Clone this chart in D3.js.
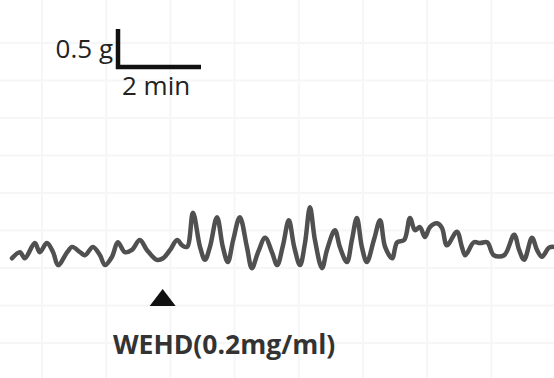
<!DOCTYPE html>
<html>
<head>
<meta charset="utf-8">
<script src="https://cdn.jsdelivr.net/npm/d3@7"></script>
<style>
  body { margin: 0; background: #fff; }
  svg { display: block; }
</style>
</head>
<body>
<div id="chart"></div>
<script>
// time in min, tension in g
const time = [0.00, 0.19, 0.31, 0.55, 0.67, 0.84, 0.99, 1.11, 1.33, 1.45, 1.64, 1.76, 1.95, 2.12, 2.24, 2.41,
  2.55, 2.72, 2.89, 3.08, 3.25, 3.49, 3.64, 3.81, 3.98, 4.10, 4.22, 4.36, 4.53, 4.65, 4.77, 4.94,
  5.08, 5.20, 5.33, 5.49, 5.66, 5.78, 5.93, 6.10, 6.27, 6.39, 6.53, 6.67, 6.80, 6.94, 7.06, 7.18,
  7.30, 7.47, 7.59, 7.78, 7.90, 8.07, 8.19, 8.31, 8.43, 8.55, 8.72, 8.87, 8.99, 9.16, 9.28, 9.45,
  9.59, 9.71, 9.83, 9.95, 10.07, 10.24, 10.36, 10.48, 10.72, 10.84, 10.92, 11.13, 11.28, 11.45,
  11.61, 11.86, 12.10, 12.22, 12.34, 12.53, 12.65, 12.77, 12.94, 13.06];
const tension = [0.22, 0.30, 0.22, 0.42, 0.30, 0.42, 0.30, 0.13, 0.30, 0.37, 0.30, 0.26, 0.37, 0.26, 0.13, 0.24,
  0.43, 0.30, 0.33, 0.46, 0.33, 0.20, 0.22, 0.33, 0.46, 0.39, 0.37, 0.82, 0.37, 0.20, 0.37, 0.76,
  0.37, 0.17, 0.46, 0.76, 0.37, 0.09, 0.30, 0.49, 0.29, 0.13, 0.39, 0.72, 0.37, 0.13, 0.42, 0.89,
  0.46, 0.09, 0.33, 0.59, 0.37, 0.17, 0.46, 0.75, 0.37, 0.17, 0.46, 0.72, 0.37, 0.22, 0.43, 0.46,
  0.75, 0.59, 0.63, 0.50, 0.63, 0.68, 0.62, 0.39, 0.57, 0.37, 0.26, 0.43, 0.42, 0.43,
  0.26, 0.26, 0.53, 0.33, 0.20, 0.49, 0.33, 0.24, 0.36, 0.37];

const scaleBar = { g: 0.5, min: 2 };
const scaleLabels = ['0.5 g', '2 min'];
const drugLabel = 'WEHD(0.2mg/ml)';
const drugTime = 3.63;

const width = 554;
const height = 378;

const svg = d3.select('#chart').append('svg')
    .attr('width', width)
    .attr('height', height);

const x = d3.scaleLinear().domain([0, 13]).range([12, 12 + 13 * 41.5]);
const y = d3.scaleLinear().domain([0, 1]).range([275, 199]);

// faint background grid
const grid = svg.append('g').attr('stroke', '#f6f6f6').attr('stroke-width', 2);
d3.range(42, width, 64.2).forEach(gx => {
    grid.append('line').attr('x1', gx).attr('x2', gx).attr('y1', 0).attr('y2', height);
});
d3.range(43, height, 37.5).forEach(gy => {
    grid.append('line').attr('x1', 0).attr('x2', width).attr('y1', gy).attr('y2', gy);
});

// trace
const points = time.map((t, i) => [t, tension[i]]);
const line = d3.line()
    .x(d => x(d[0]))
    .y(d => y(d[1]))
    .curve(d3.curveCatmullRom.alpha(0.5));

svg.append('path')
    .datum(points)
    .attr('d', line)
    .attr('fill', 'none')
    .attr('stroke', '#505050')
    .attr('stroke-width', 4.5)
    .attr('stroke-linejoin', 'round')
    .attr('stroke-linecap', 'round');

// scale bar
const cornerX = 118;
const cornerY = 67;
const barH = y(0) - y(scaleBar.g);
const barW = x(scaleBar.min) - x(0);
svg.append('path')
    .attr('d', `M${cornerX},${cornerY - barH} V${cornerY} H${cornerX + barW}`)
    .attr('fill', 'none')
    .attr('stroke', '#111')
    .attr('stroke-width', 4.5);

svg.append('text')
    .attr('x', 113)
    .attr('y', 58)
    .attr('text-anchor', 'end')
    .attr('font-family', 'Open Sans, sans-serif')
    .attr('font-size', 26)
    .attr('fill', '#222')
    .text(scaleLabels[0]);

svg.append('text')
    .attr('x', 122)
    .attr('y', 95)
    .attr('font-family', 'Open Sans, sans-serif')
    .attr('font-size', 26)
    .attr('fill', '#222')
    .text(scaleLabels[1]);

// drug marker
const mx = x(drugTime);
svg.append('path')
    .attr('d', `M${mx},289 L${mx + 13},306 L${mx - 13},306 Z`)
    .attr('fill', '#111');

svg.append('text')
    .attr('x', 113)
    .attr('y', 354)
    .attr('font-family', 'Open Sans, sans-serif')
    .attr('font-size', 26.5)
    .attr('font-weight', 'bold')
    .attr('fill', '#333')
    .text(drugLabel);
</script>
</body>
</html>
